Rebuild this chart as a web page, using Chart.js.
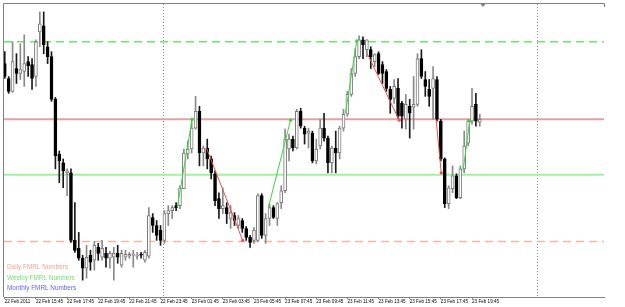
<!DOCTYPE html>
<html>
<head>
<meta charset="utf-8">
<script src="https://cdn.jsdelivr.net/npm/chart.js@4"></script>
<style>
html, body { margin: 0; padding: 0; background: #fff; }
canvas { display: block; }
</style>
</head>
<body>
<canvas id="fmrlChart" width="625" height="307"></canvas>
<script>
// M15 bars, 22 Feb 2011 13:45 -> 23 Feb 2011 20:15 (price in chart units, no scale shown)
const openV  = [238,223,210,233,228,230,240,237,225,270,276,255,245,202,147,138,128,128,60,52,
                42,32,45,40,53,43,47,42,43,47,35,43,44,45,44,46,40,44,83,75,
                70,60,87,90,95,95,112,147,152,173,190,148,153,142,127,102,92,93,82,85,
                75,80,72,63,60,60,105,65,82,93,82,98,110,152,162,153,190,173,168,168,
                140,155,173,163,138,153,148,173,187,207,228,245,262,252,252,240,248,237,230,212,
                203,213,198,182,195,194,197,243,222,212,213,222,180,142,97,112,125,103,132,158,
                180,197,179];
const highV  = [250,225,260,248,258,267,245,243,262,290,290,260,250,204,150,142,132,132,98,68,
                45,55,50,59,57,60,53,49,53,55,50,50,48,50,48,48,50,93,87,80,
                75,90,95,95,98,115,152,160,182,205,195,155,162,145,130,108,113,98,95,88,
                85,82,74,65,73,107,107,87,97,95,98,115,172,167,165,192,193,175,173,170,
                162,182,188,165,155,170,175,192,210,233,253,266,265,262,255,248,250,240,232,215,
                222,223,200,207,202,225,248,252,230,222,235,225,182,143,115,135,127,135,170,182,
                213,208,187];
const lowV   = [223,208,209,218,222,215,225,212,215,255,248,238,200,132,118,113,105,58,48,40,
                20,22,30,30,40,40,33,32,20,37,33,40,42,33,41,42,38,42,68,60,
                55,57,75,82,90,92,112,142,148,172,135,135,132,122,95,82,87,77,72,75,
                72,68,60,53,57,59,62,57,75,82,75,92,108,140,150,152,173,157,153,138,
                137,152,160,128,128,128,142,170,185,205,225,243,243,245,233,235,227,218,210,188,
                198,183,173,172,163,172,195,223,205,195,182,180,140,93,92,108,102,102,128,155,
                177,175,175];
const closeV = [225,210,240,228,232,238,236,223,260,278,257,245,202,145,140,130,130,60,50,42,
                32,43,38,55,47,52,42,47,47,43,47,46,46,45,45,45,48,85,75,65,
                60,87,90,93,93,113,148,152,173,190,148,153,142,128,100,92,95,87,88,80,
                82,72,63,58,70,105,65,82,93,83,97,110,162,162,153,190,175,167,170,140,
                152,173,163,138,153,148,173,187,207,228,245,262,257,262,245,247,228,228,213,202,
                215,185,185,197,188,197,243,225,215,205,223,182,142,97,113,125,103,132,155,180,
                195,180,182];

// bottom axis: a label every 8 bars
const tickIdx = [0,8,16,24,32,40,48,56,64,72,80,88,96,104,112,120];
const tickLabels = ['22 Feb 2011','22 Feb 15:45','22 Feb 17:45','22 Feb 19:45','22 Feb 21:45',
                    '22 Feb 23:45','23 Feb 01:45','23 Feb 03:45','23 Feb 05:45','23 Feb 07:45',
                    '23 Feb 09:45','23 Feb 11:45','23 Feb 13:45','23 Feb 15:45','23 Feb 17:45',
                    '23 Feb 19:45'];
const daySeparators = [41, 137];

// FMRL levels
const dailyLevels  = [182, 59];   // solid, dashed
const weeklyLevels = [126, 260];  // solid, dashed

// FMRL swing lines: [startBar, startPrice, endBar, endPrice]
const greenSwings = [[44.3, 93, 48.1, 182], [67.7, 93, 73.4, 181], [87.5, 188, 90.4, 261], [117.7, 130, 119.4, 180]];
const redSwings   = [[51.8, 153, 61.1, 60], [93.1, 248, 101.3, 181], [110.8, 181, 112.1, 128]];

const legendTexts = [
    ['Daily FMRL Numbers', '#f2a592'],
    ['Weekly FMRL Numbers', '#74e274'],
    ['Monthly FMRL Numbers', '#6464f2']
];

const xMin = -0.2, xMax = 153.9;
const bars = openV.map((_, i) => i);
const isUp = i => closeV[i] >= openV[i];

function levelLine(value, color, width, dash) {
    return {
        type: 'line', order: 3,
        data: [{x: xMin, y: value}, {x: xMax, y: value}],
        borderColor: color, borderWidth: width, borderDash: dash,
        pointRadius: 0
    };
}

function swingLine(s, color) {
    return {
        type: 'line', order: 0,
        data: [{x: s[0], y: s[1]}, {x: s[2], y: s[3]}],
        borderColor: color, borderWidth: 1,
        pointRadius: [0, 1.6], pointBackgroundColor: color, pointBorderWidth: 0
    };
}

const frameOverlay = {
    id: 'frameOverlay',
    beforeDatasetsDraw(chart) {
        const {ctx, chartArea: a, scales: {x}} = chart;
        ctx.save();
        ctx.strokeStyle = '#8a8a8a';
        ctx.lineWidth = 1;
        ctx.setLineDash([1, 2]);
        daySeparators.forEach(v => {
            const px = Math.round(x.getPixelForValue(v)) - 0.5;
            ctx.beginPath();
            ctx.moveTo(px, a.top);
            ctx.lineTo(px, a.bottom);
            ctx.stroke();
        });
        ctx.restore();
    },
    afterDraw(chart) {
        const {ctx, chartArea: a} = chart;
        ctx.save();
        // frame: left and top edge
        ctx.strokeStyle = '#808080';
        ctx.lineWidth = 1;
        ctx.beginPath();
        ctx.moveTo(a.left - 0.5, a.bottom);
        ctx.lineTo(a.left - 0.5, a.top - 0.5);
        ctx.lineTo(a.right + 0.5, a.top - 0.5);
        ctx.lineTo(a.right + 0.5, a.top + 3);
        ctx.stroke();
        // chart shift marker
        const sx = 483;
        ctx.fillStyle = '#808080';
        ctx.beginPath();
        ctx.moveTo(sx - 2.5, a.top);
        ctx.lineTo(sx + 2.5, a.top);
        ctx.lineTo(sx, a.top + 3);
        ctx.closePath();
        ctx.fill();
        // indicator captions
        ctx.font = '6.4px "Liberation Sans", Arial, sans-serif';
        ctx.textBaseline = 'alphabetic';
        legendTexts.forEach((t, k) => {
            ctx.fillStyle = t[1];
            ctx.fillText(t[0], 7, 269 + k * 10.6);
        });
        ctx.restore();
    }
};

new Chart(document.getElementById('fmrlChart'), {
    type: 'bar',
    data: {
        datasets: [
            {
                // candle bodies
                order: 1,
                data: bars.map(i => ({x: i, y: [openV[i], closeV[i]]})),
                barThickness: 3,
                minBarLength: 1,
                borderWidth: 1,
                borderSkipped: false,
                grouped: false,
                backgroundColor: c => isUp(c.dataIndex) ? '#ffffff' : '#000000',
                borderColor: c => isUp(c.dataIndex) ? '#7a7a7a' : '#000000'
            },
            {
                // wicks
                order: 2,
                data: bars.map(i => ({x: i, y: [lowV[i], highV[i]]})),
                barThickness: 1,
                borderWidth: 0,
                grouped: false,
                backgroundColor: c => isUp(c.dataIndex) ? '#8a8a8a' : '#1a1a1a'
            },
            levelLine(dailyLevels[0], '#e2a2a2', 2, []),
            levelLine(dailyLevels[1], '#f5b7a4', 1.5, [8, 5]),
            levelLine(weeklyLevels[0], '#a2f0a2', 2, []),
            levelLine(weeklyLevels[1], '#66ec66', 1.3, [8, 5]),
            ...greenSwings.map(s => swingLine(s, '#3ad63a')),
            ...redSwings.map(s => swingLine(s, '#f05050'))
        ]
    },
    options: {
        responsive: false,
        animation: false,
        events: [],
        layout: { padding: { left: 3, top: 2, right: 21, bottom: 0 } },
        plugins: { legend: { display: false }, tooltip: { enabled: false } },
        scales: {
            x: {
                type: 'linear',
                offset: false,
                min: xMin,
                max: xMax,
                afterBuildTicks: s => { s.ticks = tickIdx.map(v => ({value: v})); },
                afterFit: s => {
                    s.height = 10;
                    s.paddingLeft = 0;
                    s.paddingRight = 0;
                },
                ticks: {
                    autoSkip: false,
                    maxRotation: 0,
                    align: 'start',
                    padding: 0,
                    color: '#000',
                    font: { family: '"Liberation Sans", Arial, sans-serif', size: 4.6 },
                    callback: (v, i) => tickLabels[i]
                },
                grid: { offset: false, drawOnChartArea: false, drawTicks: true, tickLength: 2, color: '#808080' },
                border: { color: '#808080' }
            },
            y: {
                display: false,
                min: 3,
                max: 298
            }
        }
    },
    plugins: [frameOverlay]
});
</script>
</body>
</html>
